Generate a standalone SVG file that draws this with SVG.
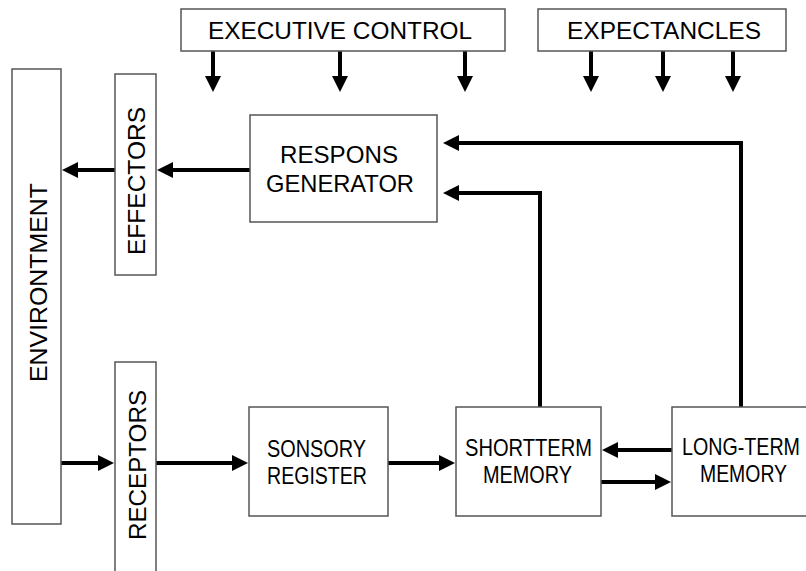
<svg xmlns="http://www.w3.org/2000/svg" width="806" height="571" viewBox="0 0 806 571">
<style>
.box{fill:#fff;stroke:#555;stroke-width:1.5}
.lbl{font-family:"Liberation Sans",Arial,sans-serif;font-size:24px;fill:#000}
.top{font-size:23px}
.con{fill:none;stroke:#000;stroke-width:4}
</style>
<defs>
<marker id="ah" viewBox="0 0 16 16" markerWidth="16" markerHeight="16" refX="8" refY="8" orient="auto" markerUnits="userSpaceOnUse">
<path d="M0,0 L16,8 L0,16 z" fill="#000"/>
</marker>
</defs>
<rect width="806" height="571" fill="#fff"/>
<g id="connectors">
<path class="con" d="M213,51 V84" marker-end="url(#ah)"/>
<path class="con" d="M340,51 V84" marker-end="url(#ah)"/>
<path class="con" d="M465,51 V84" marker-end="url(#ah)"/>
<path class="con" d="M591,51 V84" marker-end="url(#ah)"/>
<path class="con" d="M663,51 V84" marker-end="url(#ah)"/>
<path class="con" d="M733,51 V84" marker-end="url(#ah)"/>
<path class="con" d="M115,170 H70" marker-end="url(#ah)"/>
<path class="con" d="M250,170 H165" marker-end="url(#ah)"/>
<path class="con" d="M741,407 V143 H451" marker-end="url(#ah)"/>
<path class="con" d="M540,407 V193 H451" marker-end="url(#ah)"/>
<path class="con" d="M61,463 H106" marker-end="url(#ah)"/>
<path class="con" d="M156,463 H240" marker-end="url(#ah)"/>
<path class="con" d="M388,463 H447" marker-end="url(#ah)"/>
<path class="con" d="M672,450 H610" marker-end="url(#ah)"/>
<path class="con" d="M601,482 H663" marker-end="url(#ah)"/>
</g>
<g id="executive-control">
<rect class="box" x="181" y="9" width="324" height="42"/>
<text class="lbl top" x="208" y="39" textLength="264" lengthAdjust="spacingAndGlyphs">EXECUTIVE CONTROL</text>
</g>
<g id="expectancles">
<rect class="box" x="538" y="9" width="248" height="42"/>
<text class="lbl top" x="567" y="39" textLength="194" lengthAdjust="spacingAndGlyphs">EXPECTANCLES</text>
</g>
<g id="environment">
<rect class="box" x="12" y="69" width="49" height="455"/>
<text class="lbl" x="47" y="382" transform="rotate(-90 47 382)" textLength="199" lengthAdjust="spacingAndGlyphs">ENVIRONTMENT</text>
</g>
<g id="effectors">
<rect class="box" x="115" y="74" width="41" height="201"/>
<text class="lbl" x="145" y="255" transform="rotate(-90 145 255)" textLength="148" lengthAdjust="spacingAndGlyphs">EFFECTORS</text>
</g>
<g id="receptors">
<rect class="box" x="115" y="362" width="41" height="220"/>
<text class="lbl" x="146" y="540" transform="rotate(-90 146 540)" textLength="150" lengthAdjust="spacingAndGlyphs">RECEPTORS</text>
</g>
<g id="respons-generator">
<rect class="box" x="250" y="115" width="187" height="107"/>
<text class="lbl" x="280" y="163" textLength="118" lengthAdjust="spacingAndGlyphs">RESPONS</text>
<text class="lbl" x="266" y="192" textLength="148" lengthAdjust="spacingAndGlyphs">GENERATOR</text>
</g>
<g id="sonsory-register">
<rect class="box" x="249" y="407" width="139" height="109"/>
<text class="lbl" x="267" y="457" textLength="99" lengthAdjust="spacingAndGlyphs">SONSORY</text>
<text class="lbl" x="267" y="484" textLength="100" lengthAdjust="spacingAndGlyphs">REGISTER</text>
</g>
<g id="shortterm-memory">
<rect class="box" x="456" y="407" width="145" height="109"/>
<text class="lbl" x="465" y="456" textLength="127" lengthAdjust="spacingAndGlyphs">SHORTTERM</text>
<text class="lbl" x="483" y="483" textLength="89" lengthAdjust="spacingAndGlyphs">MEMORY</text>
</g>
<g id="long-term-memory">
<rect class="box" x="672" y="407" width="150" height="109"/>
<text class="lbl" x="682" y="455" textLength="118" lengthAdjust="spacingAndGlyphs">LONG-TERM</text>
<text class="lbl" x="700" y="482" textLength="87" lengthAdjust="spacingAndGlyphs">MEMORY</text>
</g>
</svg>
